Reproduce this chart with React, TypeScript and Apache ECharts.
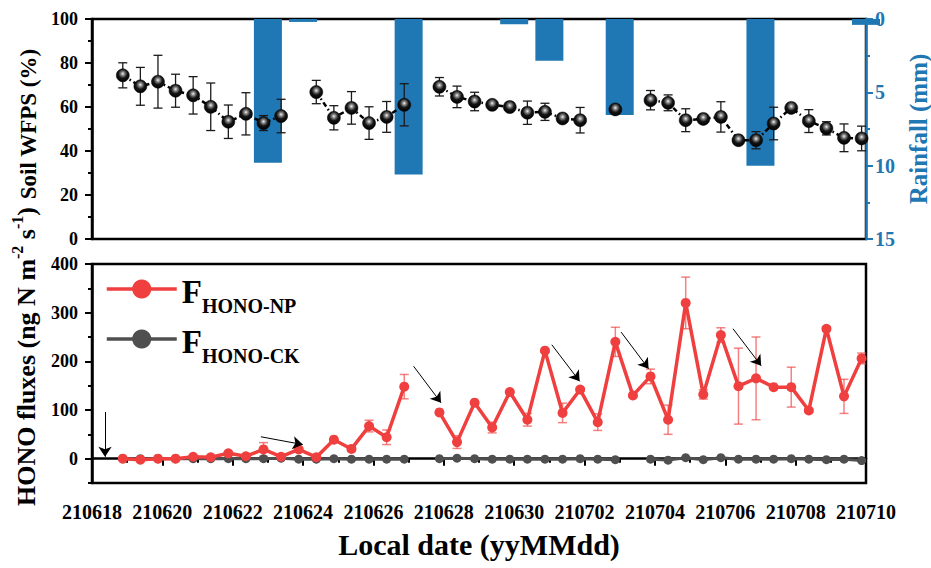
import React, { useEffect, useRef } from 'react';
import * as echarts from 'echarts';

// ---------- data ----------
const xTickLabels = ['210618', '210620', '210622', '210624', '210626', '210628', '210630', '210702', '210704', '210706', '210708', '210710'];
// samples are taken every half day; first sample at day 0.875 after 210618
const sampleStartDay = 0.875;
const sampleStepDay = 0.5;

const wfps = [74.4, 69.4, 71.5, 67.4, 65.3, 60.1, 53.3, 56.9, 52.7, 55.9, null, 66.8, 55.1, 59.6, 52.7, 55.5, 61.0, null, 69.2, 64.6, 62.5, 61.0, 60.0, 57.4, 57.8, 54.8, 54.0, null, 58.9, null, 63.1, 61.9, 54.0, 54.6, 55.5, 44.9, 44.9, 52.5, 59.6, 53.6, 50.3, 46.0, 45.7];
const wfpsErr = [5.7, 8.6, 12, 7.5, 8.5, 10.8, 7.6, 9.6, 3.4, 7.6, null, 5.3, 5.5, 7.4, 7.4, 7, 9.6, null, 4.2, 4.9, 4.2, 1, 1, 5.3, 3.9, 1, 5.8, null, 1, null, 4.4, 3.6, 5.2, 1, 6.9, 1, 3.9, 7.4, 1, 5.2, 3, 6.3, 5.6];

const rainDay = [5, 6, 9, 12, 13, 15, 19, 22];
const rainMm = [9.8, 0.2, 10.6, 0.35, 2.85, 6.55, 10.0, 0.4];

const honoNP = [0, -2, 0, 0, 4, 3, 11, 5, 19, 4, 19, 3, 39, 20, 67, 44, 148, null, 95, 34, 115, 64, 137, 80, 222, 94, 142, 75, 240, 130, 169, 80, 320, 132, 254, 149, 165, 147, 147, 99, 267, 128, 206];
const honoNPErr = [0, 0, 0, 0, 2, 0, 2, 0, 14, 0, 3, 0, 2, 5, 12, 15, 25, null, 2, 13, 2, 11, 2, 13, 3, 20, 3, 17, 30, 3, 15, 30, 53, 9.5, 15, 78, 85, 2, 41, 4, 4, 35, 11];
const honoCK = [0, 0, 0, 0, 0, 0, 0, 0, 0, 1, -1, -1, 0, -1, -1, -1, -1, null, 0, 1, 0, -1, -1, -1, -1, -1, 0, -1, -2, null, -1, -3, 2, -2, 2, -1, -1, -1, 0, -1, -2, -1, -4];

// annotation arrows, [day, flux] start -> end
const arrows = [
  [[0.37, 96], [0.37, 4]],
  [[4.8, 45], [5.99, 29]],
  [[9.14, 190], [9.92, 115]],
  [[13.07, 234], [13.86, 159]],
  [[15.04, 260], [15.82, 185]],
  [[18.22, 267], [19.02, 191]],
];

const FONT = 'Liberation Serif';
const RED = '#ef3f3f';
const GRAY = '#4f4f4f';
const BLUE = '#1f77b4';

const dayOf = (k: number) => sampleStartDay + sampleStepDay * k;

function lineData(vals: (number | null)[]) {
  return vals.map((v, k) => [dayOf(k), v === null ? '-' : v]);
}
function errData(vals: (number | null)[], errs: (number | null)[]) {
  const out: number[][] = [];
  vals.forEach((v, k) => {
    const e = errs[k];
    if (v !== null && e !== null && e > 0) out.push([dayOf(k), v - e, v + e]);
  });
  return out;
}
function errRender(color: string, capHalf: number, lw: number) {
  return (params: any, api: any) => {
    const x = api.value(0);
    const lo = api.coord([x, api.value(1)]);
    const hi = api.coord([x, api.value(2)]);
    const st = { stroke: color, lineWidth: lw };
    return {
      type: 'group',
      children: [
        { type: 'line', shape: { x1: lo[0], y1: lo[1], x2: hi[0], y2: hi[1] }, style: st },
        { type: 'line', shape: { x1: hi[0] - capHalf, y1: hi[1], x2: hi[0] + capHalf, y2: hi[1] }, style: st },
        { type: 'line', shape: { x1: lo[0] - capHalf, y1: lo[1], x2: lo[0] + capHalf, y2: lo[1] }, style: st },
      ],
    };
  };
}

export default function App() {
  const ref = useRef<HTMLDivElement>(null);
  useEffect(() => {
    if (!ref.current) return;
    const chart = echarts.init(ref.current, undefined, { renderer: 'svg' });
    const txt = (size: number, color = '#000') => ({ color, fontWeight: 'bold', fontFamily: FONT, fontSize: size });
    const sphere = new echarts.graphic.RadialGradient(0.5, 0.38, 0.62, [
      { offset: 0, color: '#f2f2f2' },
      { offset: 0.22, color: '#8a8a8a' },
      { offset: 0.55, color: '#151515' },
      { offset: 1, color: '#000' },
    ]);
    const option: any = {
      animation: false,
      backgroundColor: '#fff',
      textStyle: { fontFamily: FONT },
      grid: [
        { left: 92, right: 65, top: 19, height: 220, show: true, borderColor: '#000', borderWidth: 2.5, backgroundColor: 'transparent', containLabel: false, outerBoundsMode: 'none' },
        { left: 92, right: 65, top: 264, height: 219, show: true, borderColor: '#000', borderWidth: 2.5, backgroundColor: 'transparent', containLabel: false, outerBoundsMode: 'none' },
      ],
      xAxis: [
        {
          type: 'value', gridIndex: 0, min: 0, max: 22, interval: 2,
          axisLine: { show: false }, axisTick: { show: false }, axisLabel: { show: false }, splitLine: { show: false },
        },
        {
          type: 'value', gridIndex: 1, min: 0, max: 22, interval: 2,
          axisLine: { show: true, lineStyle: { color: '#000', width: 2.5 } },
          axisTick: { show: true, length: 7, lineStyle: { color: '#000', width: 2 } },
          minorTick: { show: true, splitNumber: 2, length: 4, lineStyle: { color: '#000', width: 2 } },
          axisLabel: { ...txt(20), margin: 19, formatter: (v: number) => xTickLabels[Math.round(v / 2)] ?? '' },
          splitLine: { show: false },
          name: 'Local date (yyMMdd)', nameLocation: 'middle', nameGap: 46,
          nameTextStyle: txt(30),
        },
      ],
      yAxis: [
        {
          type: 'value', gridIndex: 0, min: 0, max: 100, interval: 20, position: 'left',
          axisLine: { show: true, lineStyle: { color: '#000', width: 2.5 } },
          axisTick: { show: true, length: 7, lineStyle: { color: '#000', width: 2 } },
          minorTick: { show: true, splitNumber: 2, length: 4, lineStyle: { color: '#000', width: 2 } },
          axisLabel: { ...txt(18), margin: 14 },
          splitLine: { show: false },
          name: 'Soil WFPS (%)', nameLocation: 'middle', nameRotate: 90, nameGap: 50,
          nameTextStyle: { ...txt(23), padding: [0, 0, 0, 10] },
        },
        {
          type: 'value', gridIndex: 0, min: 0, max: 15, interval: 5, inverse: true, position: 'right',
          axisLine: { show: true, lineStyle: { color: BLUE, width: 2.5 } },
          axisTick: { show: true, length: 7, lineStyle: { color: BLUE, width: 2 } },
          minorTick: { show: true, splitNumber: 2, length: 4, lineStyle: { color: BLUE, width: 2 } },
          axisLabel: { ...txt(20, BLUE), margin: 9 },
          splitLine: { show: false },
          name: 'Rainfall (mm)', nameLocation: 'middle', nameRotate: 90, nameGap: 32,
          nameTextStyle: txt(25, BLUE),
        },
        {
          type: 'value', gridIndex: 1, min: -50, max: 400, interval: 50, position: 'left',
          axisLine: { show: true, lineStyle: { color: '#000', width: 2.5 } },
          axisTick: { show: true, length: 4, lineStyle: { color: '#000', width: 2 } },
          axisLabel: { ...txt(18), margin: 14, customValues: [0, 100, 200, 300, 400] },
          splitLine: { show: false },
          name: '{a|HONO fluxes (ng N m}{s|-2}{a| s}{s|-1}{a|)}', nameLocation: 'middle', nameRotate: 90, nameGap: 53,
          nameTextStyle: {
            ...txt(26),
            padding: [0, 0, 0, 34],
            rich: {
              a: { ...txt(26), lineHeight: 30, verticalAlign: 'bottom' },
              s: { ...txt(16), lineHeight: 16, verticalAlign: 'top' },
            },
          },
        },
        {
          type: 'value', gridIndex: 1, min: -50, max: 400, position: 'left',
          axisLine: { show: false },
          axisTick: { show: true, length: 7, lineStyle: { color: '#000', width: 2 }, customValues: [0, 100, 200, 300, 400] },
          axisLabel: { show: false },
          splitLine: { show: false },
        },
      ],
      legend: {
        data: ['HONO-NP', 'HONO-CK'],
        orient: 'vertical', left: 100, top: 267, itemWidth: 70, itemHeight: 24, itemGap: 6,
        lineStyle: { width: 3.5 },
        formatter: (name: string) => `{F|F}{s|${name}}`,
        textStyle: {
          ...txt(20),
          rich: {
            F: { ...txt(33), lineHeight: 34, verticalAlign: 'top', padding: [3, 0, 0, 0] },
            s: { ...txt(20), lineHeight: 20, verticalAlign: 'top', padding: [24, 0, 0, 0] },
          },
        },
      },
      series: [
        {
          type: 'bar', name: 'Rainfall', xAxisIndex: 0, yAxisIndex: 1, barWidth: 28, z: 1,
          itemStyle: { color: BLUE },
          data: rainDay.map((d, i) => [d, rainMm[i]]),
        },
        {
          type: 'custom', name: 'wfpsErr', xAxisIndex: 0, yAxisIndex: 0, z: 2,
          renderItem: errRender('#1a1a1a', 4.5, 1.3),
          encode: { x: 0, y: [1, 2] },
          data: errData(wfps, wfpsErr),
        },
        {
          type: 'line', name: 'WFPS', xAxisIndex: 0, yAxisIndex: 0, z: 3,
          symbol: 'circle', symbolSize: 13, showAllSymbol: true,
          itemStyle: { color: sphere, borderColor: '#000', borderWidth: 0.5 },
          lineStyle: { color: '#000', width: 2.5, type: [5, 3, 1.5, 3] },
          data: lineData(wfps),
        },
        {
          type: 'custom', name: 'npErr', xAxisIndex: 1, yAxisIndex: 2, z: 2,
          renderItem: errRender('rgba(239,63,63,0.65)', 4.5, 1.5),
          encode: { x: 0, y: [1, 2] },
          data: errData(honoNP, honoNPErr),
        },
        {
          type: 'line', name: 'HONO-CK', xAxisIndex: 1, yAxisIndex: 2, z: 3,
          symbol: 'circle', symbolSize: 9, showAllSymbol: true,
          itemStyle: { color: GRAY }, lineStyle: { color: GRAY, width: 3 },
          data: lineData(honoCK),
          markLine: {
            silent: true, symbol: ['none', 'arrow'], symbolSize: 10,
            lineStyle: { color: '#000', width: 1, type: 'solid' },
            label: { show: false },
            data: arrows.map(([a, b]) => [{ coord: a }, { coord: b }]),
          },
        },
        {
          type: 'line', name: 'HONO-NP', xAxisIndex: 1, yAxisIndex: 2, z: 4,
          symbol: 'circle', symbolSize: 10, showAllSymbol: true,
          itemStyle: { color: RED }, lineStyle: { color: RED, width: 3.5 },
          data: lineData(honoNP),
        },
      ],
    };
    chart.setOption(option);
    return () => chart.dispose();
  }, []);
  return <div ref={ref} style={{ position: 'absolute', left: 0, top: 0, width: 931, height: 568 }} />;
}
